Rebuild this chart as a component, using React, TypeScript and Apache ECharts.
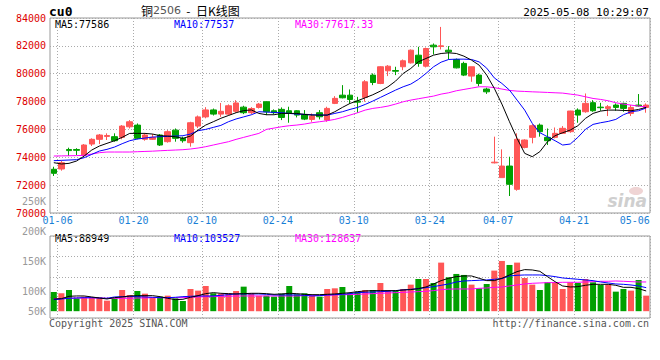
import React, { useEffect, useRef } from 'react';
import * as echarts from 'echarts';

const dates = [
  '01-06','01-07','01-08','01-09','01-10','01-13','01-14','01-15','01-16','01-17',
  '01-20','01-21','01-22','01-23','01-24','01-27',
  '02-05','02-06','02-07','02-10','02-11','02-12','02-13','02-14','02-17','02-18','02-19','02-20','02-21',
  '02-24','02-25','02-26','02-27','02-28',
  '03-03','03-04','03-05','03-06','03-07','03-10','03-11','03-12','03-13','03-14',
  '03-17','03-18','03-19','03-20','03-21','03-24','03-25','03-26','03-27','03-28','03-31',
  '04-01','04-02','04-03','04-07','04-08','04-09','04-10','04-11','04-14','04-15','04-16','04-17','04-18',
  '04-21','04-22','04-23','04-24','04-25','04-28','04-29','04-30',
  '05-06','05-07','05-08'
];
const axisLabelDates = ['01-06','01-20','02-10','02-24','03-10','03-24','04-07','04-21','05-06'];
const gridLineDates = ['01-06','01-20','02-10','02-24','03-10','03-24','04-07','04-21'];

const opens = [73140,73160,74560,74560,74160,74950,75290,75500,75480,75430,76190,76310,75290,75290,75600,75120,75950,75360,75050,76240,
  76900,77400,77100,77100,77300,77600,77200,77580,77990,77340,77440,77340,77340,77080,76720,77200,76670,77870,78460,78460,
  78030,78300,79900,79300,80210,80230,80500,80780,81330,80540,82050,81960,81690,81020,80740,79830,79900,78900,73600,72540,
  73370,71700,74710,75430,76310,75430,75430,75720,75840,77390,77270,77920,77600,77510,77750,77870,77150,77750,77580];
const closes = [72850,73610,74480,74500,74880,75290,75600,75560,75190,76240,76550,75360,75600,75430,74880,75840,75360,75190,76480,76900,
  77400,77100,77300,77700,77900,77200,77500,77820,77270,77200,76860,77150,77030,76740,76960,76910,77510,78230,78270,78150,
  77960,79420,79370,80500,80540,80180,80930,81690,80740,81810,81930,82000,81570,80420,79900,80500,79300,78700,73650,73370,
  72060,75290,75240,76270,75840,75190,75720,76080,77320,77030,77870,77340,77560,77630,77580,77510,77580,77680,77750];
const lows = [72660,73040,74090,74160,74090,74810,74950,75240,75120,75290,76070,75290,75190,75240,74810,75050,75120,75050,74760,76100,
  76800,77000,76900,77000,77200,77100,77100,77500,77030,77100,76670,76480,76860,76670,76550,76720,76550,77820,78230,77870,
  77200,77990,79180,79250,79830,79900,80250,80730,80500,80450,81380,81740,81020,80380,79830,79420,79100,78550,73560,72540,
  71220,71600,74640,75000,75480,74880,75360,75670,75760,76480,77200,77270,77340,76960,77340,77270,76960,77630,77200];
const highs = [73320,73760,74690,74650,74950,75360,75670,75720,75720,76310,76670,76430,75720,75670,75670,75950,76070,75480,76550,77000,
  77600,77500,77900,77800,78100,77700,77600,77900,77990,77440,77580,77630,77390,77390,77150,77390,77630,78390,79180,78870,
  78340,79540,80020,80540,80620,80500,81020,81740,81930,81880,82170,83360,81980,81090,80860,80500,80000,79000,75480,74570,
  74040,75720,75290,76380,76430,76070,76140,76240,77340,77510,78580,78100,77910,77750,77870,77920,77750,78540,77870];

const ma5 = [73613,73518,73565,73732,74091,74521,74808,75000,75190,75430,75716,75716,75716,75668,75549,75525,75477,75358,75525,75955,
  76314,76553,76800,77000,77200,77350,77400,77150,77054,77054,77150,77150,77150,77078,77030,77030,77030,77270,77580,77867,
  78058,78273,78488,78751,79062,79468,80018,80376,80854,81094,81332,81452,81500,81452,81261,80974,80616,79900,78950,77819,
  76552,75358,74282,74043,74402,75118,75549,75764,75955,76266,76792,77150,77317,77389,77389,77365,77341,77437,77586];
const ma10 = [73756,73780,73804,73828,73971,74210,74449,74569,74736,74975,75190,75310,75381,75453,75477,75500,75525,75549,75668,75907,
  76003,76146,76290,76553,76750,76900,77050,77270,77246,77222,77198,77150,77102,77078,77054,77030,77030,77150,77270,77437,
  77580,77795,78034,78297,78560,78823,79062,79253,79588,80018,80496,80830,81022,81046,81046,81022,80850,80400,79700,79300,
  78823,78106,77389,76433,75764,75477,75190,74880,74951,75430,76003,76361,76481,76576,76720,77054,77270,77341,77537];
const ma30 = [74091,74100,74110,74120,74140,74234,74330,74378,74378,74378,74378,74400,74420,74440,74470,74497,74520,74545,74593,74665,
  74760,74880,75000,75118,75286,75430,75572,75716,76003,76098,76194,76266,76314,76385,76481,76553,76625,76720,76863,77030,
  77198,77389,77509,77580,77676,77819,77986,78106,78202,78297,78393,78536,78632,78775,78871,78966,79062,79060,79000,78900,
  78800,78751,78727,78700,78680,78656,78632,78608,78536,78464,78345,78225,78154,78058,77915,77819,77747,77676,77617.33];

const volumes = [84600,78700,93400,56700,64000,61100,59600,46400,56700,93400,71400,89000,77200,59600,64000,68400,56700,44900,97800,90500,
  111000,78700,77200,78700,89000,108000,78700,68400,68400,64000,77200,111000,74300,78700,68400,64000,97800,100700,106600,78700,
  86000,93400,93400,124200,90500,90500,97800,116900,141800,141800,124200,213800,149200,163900,159500,116900,100700,119800,178600,221100,
  203500,213800,146200,116900,93400,127200,127200,97800,127200,124200,141800,127200,115400,116900,86000,97800,90500,137400,68400];
const vma5 = [53700,55200,65500,67000,67000,62600,58100,53700,59600,62600,67000,68400,68400,68400,64000,56700,50800,52300,61100,68400,
  77200,81600,78700,77200,75800,77200,78700,78700,77200,74300,75800,78700,77200,74300,72800,72800,74300,75800,78700,81600,
  86000,89000,90500,90500,90500,90500,93400,94900,99300,106600,119800,134500,144800,152100,155100,155100,144800,134500,134500,144800,
  159500,174200,183000,181500,175600,152100,130000,111000,106600,108000,114000,118300,118300,118300,114000,105100,105100,99300,88949];
const vma10 = [50800,53700,56700,58100,59600,59600,58100,56700,62600,64000,64000,64000,62600,61100,59600,59600,61100,64000,65500,67000,
  67000,67000,69900,72800,75800,75800,75800,75800,74300,71400,71400,71400,71400,69900,67000,68400,71400,72800,74300,77200,
  81600,83100,84600,86000,87500,90500,93400,96300,99300,103700,108100,114000,119800,128600,133000,134500,136000,137400,140400,143300,
  155100,158000,159500,159500,159500,156500,152100,146200,143300,140400,137400,134500,128600,124200,119800,118300,115400,111000,103527];
const vma30 = [55200,55200,56700,58100,58100,58100,58100,56700,56700,56700,56700,58100,58100,59600,59600,59600,59600,59600,61100,62600,
  64000,64000,65500,65500,67000,67000,67000,67000,67000,67000,67000,67000,67000,68400,68400,69900,69900,71400,72800,72800,
  74300,75800,77200,78700,80100,81600,83100,84600,86000,87500,90500,94900,97100,97800,97800,97800,100700,102200,105100,106600,
  111000,115400,119800,122800,124200,125700,125700,127200,127200,127200,128600,130000,131600,131600,133000,131600,130000,128600,128637];

const volTickLabels = ['250K', '200K', '150K', '100K', '50K'];
const volTickY = [201, 231, 261, 291, 311];

const MONO = '"DejaVu Sans Mono", monospace';
const UP = '#ff5656';
const DOWN = '#00a000';

export default function App() {
  const ref = useRef<HTMLDivElement>(null);
  useEffect(() => {
    if (!ref.current) return;
    const chart = echarts.init(ref.current, null, { renderer: 'svg' });
    const candles = dates.map((_, i) => [opens[i], closes[i], lows[i], highs[i]]);
    const volData = volumes.map((v, i) => ({
      value: v,
      itemStyle: { color: closes[i] >= opens[i] ? UP : DOWN },
    }));
    const dotted = { color: '#aaaaaa', type: [1, 2] as any, width: 1 };
    const xBase = (gridIndex: number, showLabel: boolean) => ({
      type: 'category',
      gridIndex,
      data: dates,
      boundaryGap: true,
      axisLine: { show: false },
      axisTick: { show: false },
      axisLabel: {
        show: showLabel,
        interval: (_i: number, v: string) => axisLabelDates.includes(v),
        color: '#1a7fd6',
        fontFamily: MONO,
        fontSize: 10,
        margin: 2,
        padding: [0, 0, 0, 7.6],
      },
      splitLine: {
        show: true,
        interval: (i: number) => i > 0 && gridLineDates.includes(dates[i - 1]),
        lineStyle: dotted,
      },
    });
    const txt = (text: string, x: number, y: number, fill: string, opts: any = {}) => ({
      type: 'text',
      x,
      y,
      silent: true,
      style: {
        text,
        fill,
        font: opts.font || `10px ${MONO}`,
        textAlign: opts.align || 'left',
        textVerticalAlign: 'middle',
      },
    });
    const option: any = {
      animation: false,
      backgroundColor: '#ffffff',
      grid: [
        { left: 50, top: 18, width: 600, height: 195, show: true, borderColor: '#999999', borderWidth: 1 },
        { left: 50, top: 236, width: 600, height: 82, show: true, borderColor: '#999999', borderWidth: 1 },
      ],
      xAxis: [xBase(0, true), xBase(1, false)],
      yAxis: [
        {
          type: 'value', gridIndex: 0, min: 70000, max: 84000, interval: 2000,
          axisLine: { show: false }, axisTick: { show: false },
          axisLabel: { color: '#dd0000', fontFamily: MONO, fontSize: 10, margin: 4, formatter: (v: number) => String(v) },
          splitLine: { show: true, lineStyle: dotted },
        },
        {
          type: 'value', gridIndex: 1, min: -30000, max: 331000,
          axisLine: { show: false }, axisTick: { show: false }, axisLabel: { show: false },
          splitLine: { show: false },
        },
        {
          type: 'value', gridIndex: 1, min: 0, max: 4, interval: 1,
          axisLine: { show: false }, axisTick: { show: false }, axisLabel: { show: false },
          splitLine: { show: true, lineStyle: dotted },
        },
      ],
      series: [
        {
          type: 'candlestick', xAxisIndex: 0, yAxisIndex: 0, data: candles, barWidth: 6,
          itemStyle: { color: UP, color0: DOWN, borderColor: UP, borderColor0: DOWN, borderWidth: 1 },
        },
        { type: 'line', xAxisIndex: 0, yAxisIndex: 0, data: ma30, showSymbol: false, symbol: 'none', lineStyle: { color: '#ff00ff', width: 1 }, z: 3 },
        { type: 'line', xAxisIndex: 0, yAxisIndex: 0, data: ma10, showSymbol: false, symbol: 'none', lineStyle: { color: '#0000ff', width: 1 }, z: 3 },
        { type: 'line', xAxisIndex: 0, yAxisIndex: 0, data: ma5, showSymbol: false, symbol: 'none', lineStyle: { color: '#000000', width: 1 }, z: 3 },
        { type: 'bar', xAxisIndex: 1, yAxisIndex: 1, data: volData, barWidth: 6 },
        { type: 'line', xAxisIndex: 1, yAxisIndex: 1, data: vma30, showSymbol: false, symbol: 'none', lineStyle: { color: '#ff00ff', width: 1 }, z: 3 },
        { type: 'line', xAxisIndex: 1, yAxisIndex: 1, data: vma10, showSymbol: false, symbol: 'none', lineStyle: { color: '#0000ff', width: 1 }, z: 3 },
        { type: 'line', xAxisIndex: 1, yAxisIndex: 1, data: vma5, showSymbol: false, symbol: 'none', lineStyle: { color: '#000000', width: 1 }, z: 3 },
      ],
      graphic: [
        txt('cu0', 49, 11, '#000000', { font: `bold 13px ${MONO}` }),
        {
          type: 'text', x: 141, y: 10, silent: true,
          style: {
            text: '{a|铜}{b|2506}{a|  -  日K线图}',
            textAlign: 'left', textVerticalAlign: 'middle',
            rich: {
              a: { fontFamily: '"Noto Sans CJK SC"', fontSize: 12, fill: '#000000', color: '#000000' },
              b: { fontFamily: '"DejaVu Sans", sans-serif', fontSize: 11, fill: '#555555', color: '#555555' },
            },
          },
        },
        txt('2025-05-08 10:29:07', 649, 12, '#000000', { align: 'right', font: `11px ${MONO}` }),
        txt('MA5:77586', 55, 24.5, '#000000'),
        txt('MA10:77537', 174, 24.5, '#0000ff'),
        txt('MA30:77617.33', 295, 24.5, '#ff00ff'),
        txt('MA5:88949', 55, 238, '#000000'),
        txt('MA10:103527', 174, 238, '#0000ff'),
        txt('MA30:128637', 295, 238, '#ff00ff'),
        ...volTickLabels.map((t, i) => txt(t, 46, volTickY[i], '#999999', { align: 'right' })),
        txt('Copyright 2025 SINA.COM', 49, 323, '#555555'),
        txt('http://finance.sina.com.cn', 649, 323, '#555555', { align: 'right' }),
        { type: 'ellipse', silent: true, shape: { cx: 636, cy: 191, rx: 7, ry: 4 }, style: { fill: '#efd4d4' } },
        txt('sina', 647, 201, '#cfcfcf', { align: 'right', font: 'italic bold 17px "DejaVu Sans", sans-serif' }),
      ],
    };
    chart.setOption(option);
    return () => chart.dispose();
  }, []);
  return <div ref={ref} style={{ position: 'fixed', left: 0, top: 0, width: 660, height: 360 }} />;
}
